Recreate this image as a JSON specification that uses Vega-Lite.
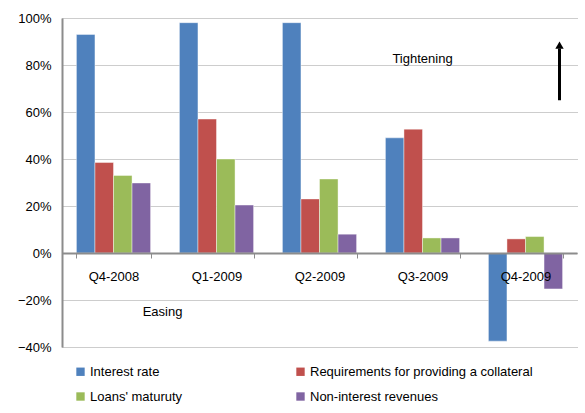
{
  "$schema": "https://vega.github.io/schema/vega-lite/v6.json",
  "width": 515,
  "height": 329,
  "autosize": {"type": "none"},
  "padding": {"left": 62, "top": 18, "right": 8, "bottom": 66},
  "background": "white",
  "config": {
    "font": "Liberation Sans",
    "view": {"stroke": null},
    "axis": {"labelFont": "Liberation Sans", "labelFontSize": 13, "labelColor": "#000"}
  },
  "datasets": {
    "bars": [
      {"q": "Q4-2008", "s": "Interest rate", "v": 0.93},
      {"q": "Q4-2008", "s": "Requirements for providing a collateral", "v": 0.385},
      {"q": "Q4-2008", "s": "Loans' maturuty", "v": 0.33},
      {"q": "Q4-2008", "s": "Non-interest revenues", "v": 0.298},
      {"q": "Q1-2009", "s": "Interest rate", "v": 0.98},
      {"q": "Q1-2009", "s": "Requirements for providing a collateral", "v": 0.57},
      {"q": "Q1-2009", "s": "Loans' maturuty", "v": 0.40},
      {"q": "Q1-2009", "s": "Non-interest revenues", "v": 0.204},
      {"q": "Q2-2009", "s": "Interest rate", "v": 0.98},
      {"q": "Q2-2009", "s": "Requirements for providing a collateral", "v": 0.23},
      {"q": "Q2-2009", "s": "Loans' maturuty", "v": 0.315},
      {"q": "Q2-2009", "s": "Non-interest revenues", "v": 0.08},
      {"q": "Q3-2009", "s": "Interest rate", "v": 0.49},
      {"q": "Q3-2009", "s": "Requirements for providing a collateral", "v": 0.527},
      {"q": "Q3-2009", "s": "Loans' maturuty", "v": 0.064},
      {"q": "Q3-2009", "s": "Non-interest revenues", "v": 0.064},
      {"q": "Q4-2009", "s": "Interest rate", "v": -0.375},
      {"q": "Q4-2009", "s": "Requirements for providing a collateral", "v": 0.06},
      {"q": "Q4-2009", "s": "Loans' maturuty", "v": 0.07},
      {"q": "Q4-2009", "s": "Non-interest revenues", "v": -0.153}
    ],
    "tight": [
      {"q": "Q3-2009", "v": 0.825, "t": "Tightening"}
    ],
    "easy": [
      {"q": "Q4-2008", "v": -0.25, "t": "Easing"}
    ],
    "arrow": [
      {"q": "Q4-2009", "v0": 0.65, "v1": 0.87, "tip": 0.885}
    ]
  },
  "layer": [
    {
      "data": {"name": "bars"},
      "mark": {"type": "bar", "stroke": "white", "strokeOpacity": 0.6, "strokeWidth": 0.7},
      "encoding": {
        "x": {
          "field": "q", "type": "nominal", "sort": null,
          "scale": {"paddingInner": 0.28, "paddingOuter": 0.14},
          "axis": {
            "title": null, "labelAngle": 0, "offset": -94, "domainColor": "#8c8c8c", "domainWidth": 2,
            "tickBand": "extent", "tickColor": "#8c8c8c", "tickSize": 5, "tickWidth": 1,
            "labelPadding": 12, "grid": false, "zindex": 1
          }
        },
        "xOffset": {"field": "s", "type": "nominal", "sort": null, "scale": {"paddingInner": 0, "paddingOuter": 0}},
        "y": {
          "field": "v", "type": "quantitative",
          "scale": {"domain": [-0.4, 1.0], "nice": false, "zero": false},
          "axis": {
            "title": null, "format": ".0%", "values": [-0.4, -0.2, 0, 0.2, 0.4, 0.6, 0.8, 1.0],
            "domainColor": "#8c8c8c", "domainWidth": 2, "ticks": false, "labelPadding": 11,
            "gridColor": "#9a9a9a", "gridDash": [1, 1], "gridWidth": 1
          }
        },
        "color": {
          "field": "s", "type": "nominal", "sort": null,
          "scale": {
            "domain": ["Interest rate", "Requirements for providing a collateral", "Loans' maturuty", "Non-interest revenues"],
            "range": ["#4F81BD", "#C0504D", "#9BBB59", "#8064A2"]
          },
          "legend": {
            "title": null, "orient": "none", "legendX": 12, "legendY": 347, "columns": 2, "direction": "horizontal",
            "symbolType": "square", "symbolSize": 70, "symbolStrokeWidth": 0, "labelFontSize": 13, "labelLimit": 400,
            "labelFont": "Liberation Sans", "labelColor": "#000", "columnPadding": 111, "rowPadding": 11,
            "labelOffset": 3, "padding": 0
          }
        }
      }
    },
    {
      "data": {"name": "tight"},
      "mark": {"type": "text", "fontSize": 13, "font": "Liberation Sans", "color": "#000"},
      "encoding": {
        "x": {"field": "q", "type": "nominal", "sort": null},
        "y": {"field": "v", "type": "quantitative"},
        "text": {"field": "t"}
      }
    },
    {
      "data": {"name": "easy"},
      "mark": {"type": "text", "fontSize": 13, "font": "Liberation Sans", "color": "#000", "dx": 49},
      "encoding": {
        "x": {"field": "q", "type": "nominal", "sort": null},
        "y": {"field": "v", "type": "quantitative"},
        "text": {"field": "t"}
      }
    },
    {
      "data": {"name": "arrow"},
      "mark": {"type": "rule", "color": "#000", "strokeWidth": 3, "xOffset": 34},
      "encoding": {
        "x": {"field": "q", "type": "nominal", "sort": null},
        "y": {"field": "v0", "type": "quantitative"},
        "y2": {"field": "v1"}
      }
    },
    {
      "data": {"name": "arrow"},
      "mark": {"type": "point", "shape": "triangle-up", "filled": true, "color": "#000", "size": 70, "opacity": 1, "xOffset": 34},
      "encoding": {
        "x": {"field": "q", "type": "nominal", "sort": null},
        "y": {"field": "tip", "type": "quantitative"}
      }
    }
  ]
}
